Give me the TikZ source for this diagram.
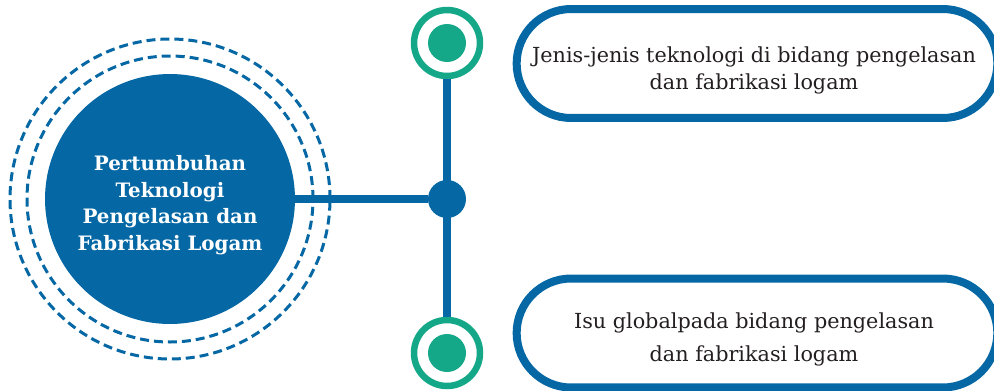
\documentclass[tikz,border=0pt]{standalone}
\usepackage{fontspec}
\setmainfont{DejaVu Serif}
\usetikzlibrary{shapes.misc}

\definecolor{biru}{RGB}{5,104,165}
\definecolor{hijau}{RGB}{20,168,136}
\definecolor{teks}{RGB}{35,31,32}

\tikzset{
    pusatbulat/.style={circle, fill=biru, minimum size=5cm, inner sep=0pt},
    judul/.style={text=white, align=center, inner sep=0pt, font=\bfseries\fontsize{11.3}{15.1}\selectfont},
    garis/.style={biru, line width=0.16cm},
    putus/.style={biru, line width=0.06cm, dash pattern=on 0.18cm off 0.1cm},
    simpulbulat/.style={circle, fill=biru, minimum size=0.76cm, inner sep=0pt},
    cincin/.style={circle, draw=hijau, fill=white, line width=0.13cm, minimum size=1.32cm, inner sep=0pt},
    kapsul/.style={rounded rectangle, draw=biru, line width=0.16cm, minimum width=9.85cm, minimum height=2.18cm},
    ket/.style={text=teks, align=center, inner sep=0pt}
}

\begin{document}
\begin{tikzpicture}[x=0.02cm, y=0.02cm]
    \useasboundingbox (0,0) rectangle (994,390);
    % lingkaran utama dengan dua cincin putus-putus
    \node[pusatbulat] (pusat) at (170,191) {};
    \node[judul] (pusatteks) at (170,185) {Pertumbuhan\\Teknologi\\Pengelasan dan\\Fabrikasi Logam};
    \draw[putus] (pusat.center) circle (143);
    \draw[putus] (pusat.center) circle (160);
    % simpul cabang
    \node[simpulbulat] (simpul) at (447,191) {};
    \node[cincin] (atas) at (447,347) {};
    \node[cincin] (bawah) at (447,37) {};
    \fill[hijau] (atas.center) circle (19);
    \fill[hijau] (bawah.center) circle (19);
    \draw[garis] (pusat) -- (simpul);
    \draw[garis] (atas) -- (bawah);
    % kotak keterangan
    \node[kapsul] (jenis) at (757,326.5) {};
    \node[ket, font=\fontsize{11.8}{15.4}\selectfont] (jenisteks) at (754,320) {Jenis-jenis teknologi di bidang pengelasan\\dan fabrikasi logam};
    \node[kapsul] (isu) at (757,57) {};
    \node[ket, font=\fontsize{11.8}{18.8}\selectfont] (isuteks) at (754,51) {Isu globalpada bidang pengelasan\\dan fabrikasi logam};
\end{tikzpicture}
\end{document}
